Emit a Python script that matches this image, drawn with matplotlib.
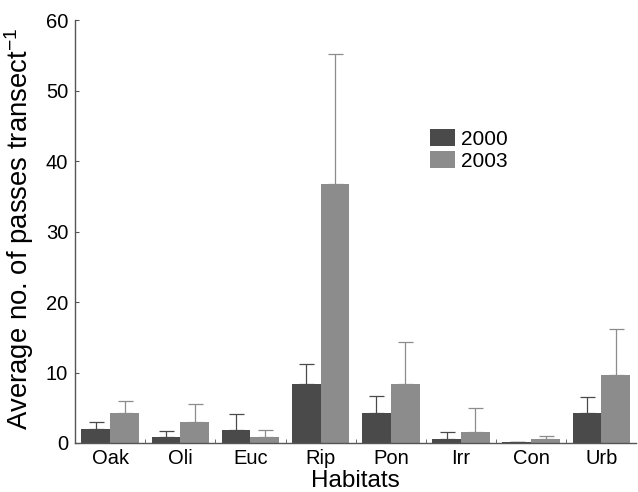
import numpy as np
import matplotlib
matplotlib.use('Agg')
import matplotlib.pyplot as plt

plt.rcParams['font.family'] = ['Liberation Sans', 'DejaVu Sans']
plt.rcParams['mathtext.default'] = 'regular'

habitats = ['Oak', 'Oli', 'Euc', 'Rip', 'Pon', 'Irr', 'Con', 'Urb']
mean_2000 = [2.0, 0.9, 1.9, 8.3, 4.3, 0.6, 0.1, 4.3]
se_2000 = [1.0, 0.8, 2.2, 2.9, 2.4, 0.9, 0.0, 2.2]
mean_2003 = [4.2, 3.0, 0.9, 36.8, 8.3, 1.6, 0.6, 9.7]
se_2003 = [1.8, 2.5, 0.9, 18.4, 6.0, 3.3, 0.4, 6.5]

dark = '#4a4a4a'
light = '#8c8c8c'
axis_col = '#555555'

fig = plt.figure(figsize=(6.38, 4.92), dpi=100)
ax = fig.add_axes([0.1176, 0.0996, 0.88, 0.8597])

x = np.arange(len(habitats))
w = 0.41
ax.bar(x - w / 2, mean_2000, w, color=dark, label='2000', zorder=2)
ax.bar(x + w / 2, mean_2003, w, color=light, label='2003', zorder=2)

# upper error bars only
ax.errorbar(x - w / 2, mean_2000, yerr=[np.zeros(len(x)), se_2000], fmt='none',
            ecolor=dark, elinewidth=0.9, capsize=5.4, capthick=0.9, zorder=1)
ax.errorbar(x + w / 2, mean_2003, yerr=[np.zeros(len(x)), se_2003], fmt='none',
            ecolor=light, elinewidth=0.9, capsize=5.4, capthick=0.9, zorder=1)

ax.set_xlim(-0.5, len(habitats) - 0.5)
ax.set_ylim(0, 60)
ax.set_yticks(range(0, 61, 10))
ax.set_xticks(x)
ax.set_xticklabels(habitats)
ax.set_xticks(np.arange(0.5, len(habitats) - 0.5, 1), minor=True)

ax.tick_params(axis='x', which='major', length=0, labelsize=14.5, pad=4)
ax.tick_params(axis='x', which='minor', direction='in', length=3, color=axis_col)
ax.tick_params(axis='y', direction='in', length=3, color=axis_col, labelsize=14.5, pad=5)

for s in ['top', 'right']:
    ax.spines[s].set_visible(False)
for s in ['left', 'bottom']:
    ax.spines[s].set_color(axis_col)
    ax.spines[s].set_linewidth(1.0)

ax.set_xlabel('Habitats', fontsize=17.5)
ax.xaxis.set_label_coords(0.5, -0.064)
ax.set_ylabel('Average no. of passes transect$^{-1}$', fontsize=19.8)
ax.yaxis.set_label_coords(-0.069, 0.506)

ax.legend(loc='upper left', bbox_to_anchor=(430 / 638, 1 - 129 / 492),
          bbox_transform=fig.transFigure, frameon=False, fontsize=15,
          handlelength=1.2, handleheight=0.9, handletextpad=0.3,
          labelspacing=0.1, borderpad=0, borderaxespad=0)

fig.savefig('out.png', dpi=100)
